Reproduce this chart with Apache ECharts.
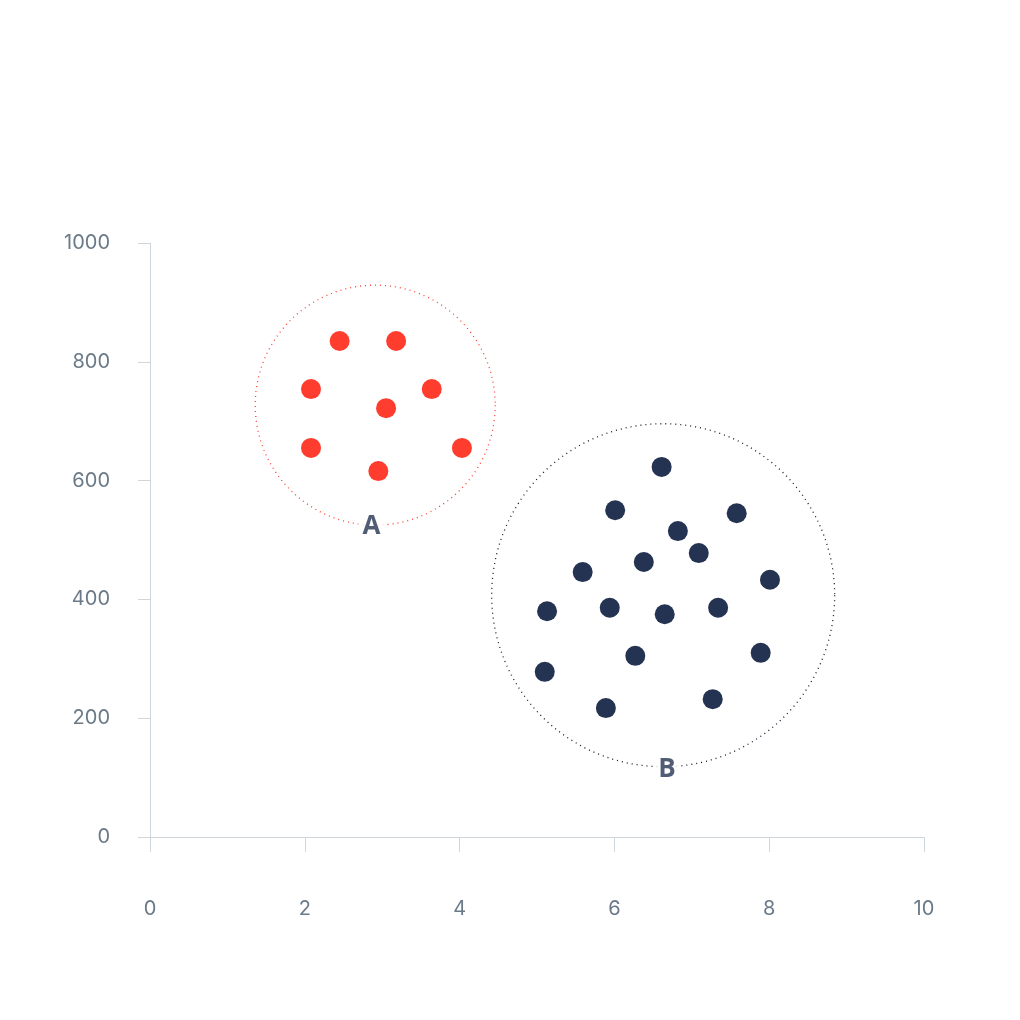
<!DOCTYPE html>
<html><head><meta charset="utf-8">
<script src="https://cdn.jsdelivr.net/npm/echarts@6/dist/echarts.min.js"></script>
<style>html,body{margin:0;padding:0;background:#fff}#c{width:1020px;height:1020px}</style>
</head><body><div id="c"></div>
<script>
const groupA = [[2.45,835],[3.18,835],[2.08,754],[3.64,754],[3.05,722],[2.08,655],[4.03,655],[2.95,616]];
const groupB = [[6.61,623],[6.01,550],[7.58,545],[6.82,515],[7.09,478],[6.38,463],[5.59,446],[8.01,433],
  [5.13,380],[5.94,386],[6.65,375],[7.34,386],[6.27,305],[7.89,310],[5.10,278],[7.27,232],[5.89,217]];
const clusterA = {center:[2.91,727], label:'A', labelPos:[2.86,522]};
const clusterB = {center:[6.63,407], label:'B', labelPos:[6.68,113]};
const xTicks = [0,2,4,6,8,10];
const yTicks = [0,200,400,600,800,1000];

const chart = echarts.init(document.getElementById('c'));
const gray = '#6b7a88', line = '#cfd6dc';
chart.setOption({
  animation:false,
  grid:{left:150,right:96,top:243,bottom:183},
  xAxis:{type:'value',min:0,max:10,interval:2,
    axisLine:{lineStyle:{color:line}},axisTick:{show:true,length:15,inside:false,lineStyle:{color:line}},
    splitLine:{show:false},axisLabel:{margin:62,color:gray,fontSize:20,fontFamily:'Inter',formatter:v=>String(v)}},
  yAxis:{type:'value',min:0,max:1000,interval:200,
    axisLine:{show:true,lineStyle:{color:line}},axisTick:{show:true,length:12,lineStyle:{color:line}},
    splitLine:{show:false},axisLabel:{margin:40,color:gray,fontSize:20,fontFamily:'Inter',formatter:v=>String(v)}},
  series:[
    {type:'scatter',data:[clusterA.center],symbolSize:240,silent:true,
     itemStyle:{opacity:1,color:'transparent',borderColor:'#ff3d2e',borderWidth:1.3,borderType:[1,4]}},
    {type:'scatter',data:[clusterB.center],symbolSize:343,silent:true,
     itemStyle:{opacity:1,color:'transparent',borderColor:'#111827',borderWidth:1.3,borderType:[1,4]}},
    {type:'scatter',data:groupA,symbolSize:20,itemStyle:{opacity:1,color:'#ff3d2e'}},
    {type:'scatter',data:groupB,symbolSize:20,itemStyle:{opacity:1,color:'#253352'}},
    {type:'scatter',symbolSize:1,itemStyle:{color:'transparent'},
     data:[{value:clusterA.labelPos,name:clusterA.label},{value:clusterB.labelPos,name:clusterB.label}],
     label:{show:true,position:'inside',formatter:'{b}',color:'#253352',fontSize:26,fontWeight:'bold',
       fontFamily:'Open Sans',backgroundColor:'#fff',padding:[0,4]}}
  ]
});
</script></body></html>
